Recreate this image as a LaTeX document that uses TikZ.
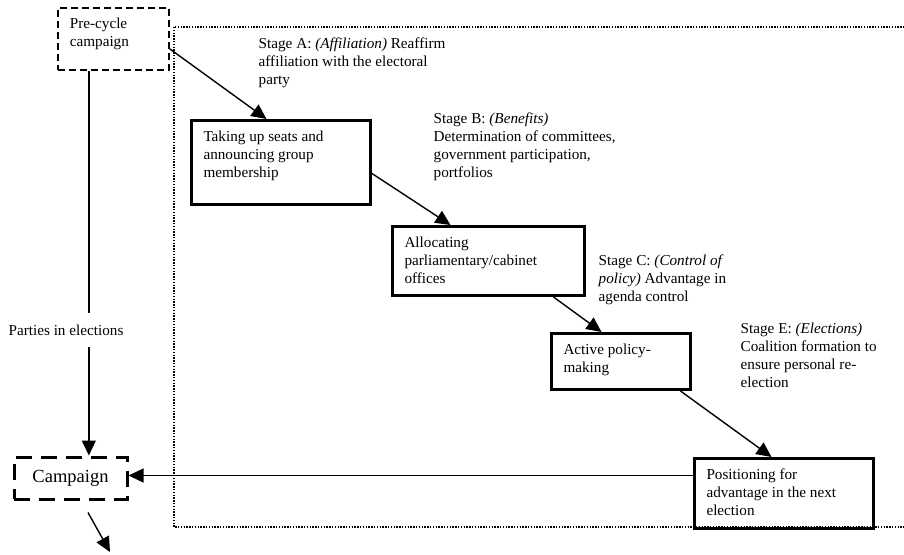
\documentclass[tikz,border=0pt]{standalone}
\usepackage{fontspec}
\setmainfont{Liberation Serif}
\usetikzlibrary{arrows.meta}
\newcommand{\inbox}[3]{\parbox[c][#2][t]{#1}{\raggedright #3}}

\begin{document}
\begin{tikzpicture}[x=1pt, y=-1pt, line width=1.4pt, >={Triangle[length=15pt,width=14pt]},
  font=\fontsize{15.2}{18}\selectfont,
  stage box/.style={draw,line width=3pt,anchor=north west,inner xsep=12pt,inner ysep=10pt},
  stage text/.style={anchor=north west,align=left,inner sep=0pt}]
\useasboundingbox (0,0) rectangle (904,554);
% frame round the cycle
\draw[line width=1.2pt, dash pattern=on 1.4pt off 1.4pt] (174,27) rectangle (910,527);
\node [draw,line width=1.7pt,dash pattern=on 7pt off 4pt,anchor=north west,inner xsep=12pt,inner ysep=10pt] (pre) at (57,7) {\inbox{87pt}{42pt}{Pre-cycle\\campaign}};
\node [stage box] (box1) at (190,119) {\inbox{155pt}{64pt}{Taking up seats and\\announcing group\\membership}};
\node [stage box] (box2) at (391,225) {\inbox{168pt}{49pt}{Allocating\\parliamentary/cabinet\\offices}};
\node [stage box] (box3) at (550,332) {\inbox{115pt}{36pt}{Active policy-\\making}};
\node [stage box] (box4) at (693,457) {\inbox{155pt}{50pt}{Positioning for\\advantage in the next\\election}};
\node [draw,line width=3pt,dash pattern=on 16pt off 9pt,minimum width=113pt,minimum height=42pt,font=\fontsize{18.5}{22}\selectfont] (camp) at (70.5,478) {Campaign};
% stage labels
\node [stage text] (stageA) at (258,37) {Stage A: \textit{(Affiliation)} Reaffirm\\affiliation with the electoral\\party};
\node [stage text] (stageB) at (433,112) {Stage B: \textit{(Benefits)}\\Determination of committees,\\government participation,\\portfolios};
\node [stage text] (stageC) at (598,254) {Stage C: \textit{(Control of}\\\textit{policy)} Advantage in\\agenda control};
\node [stage text] (stageE) at (740,322) {Stage E: \textit{(Elections)}\\Coalition formation to\\ensure personal re-\\election};
% arrows
\draw[->] ([yshift=-10pt]pre.east) -- ([xshift=-14.5pt]box1.north);
\draw[->] ([yshift=-11pt]box1.east) -- ([xshift=-38pt]box2.north);
\draw[->] ([xshift=65pt]box2.south) -- ([xshift=-19.5pt]box3.north);
\draw[->] ([xshift=59.5pt]box3.south) -- ([xshift=-12.5pt]box4.north);
\coordinate (back) at ([yshift=18pt]box4.west);
\draw[->] (back) -- (back -| camp.east);
\coordinate (drop) at ([xshift=-24.5pt]pre.south);
\draw[->] (drop) -- (drop |- camp.north);
\node [fill=white,inner xsep=2pt,inner ysep=12pt] (parties) at (66,330) {Parties in elections};
\coordinate (next) at (110,552);
\draw[->] ([xshift=17.5pt,yshift=-12pt]camp.south) -- (next);
\end{tikzpicture}
\end{document}
